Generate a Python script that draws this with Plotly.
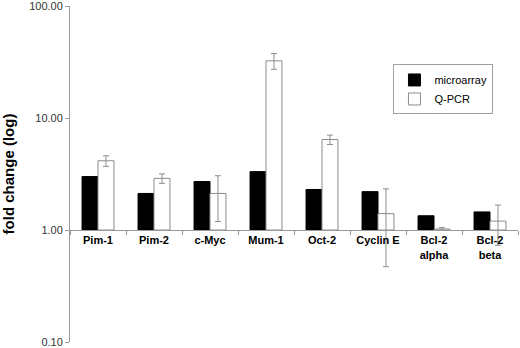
import plotly.graph_objects as go

categories = ["Pim-1", "Pim-2", "c-Myc", "Mum-1", "Oct-2", "Cyclin E", "Bcl-2<br>alpha", "Bcl-2<br>beta"]
microarray = [3.0, 2.12, 2.71, 3.32, 2.30, 2.20, 1.34, 1.45]
qpcr = [4.15, 2.89, 2.12, 32.4, 6.42, 1.40, 1.02, 1.20]
qpcr_err = [0.45, 0.28, 0.93, 5.2, 0.62, 0.93, 0.03, 0.47]
tick_vals = [0.1, 1, 10, 100]
tick_text = ["0.10", "1.00", "10.00", "100.00"]
baseline = 1.0

FONT = "Liberation Sans, Arial, sans-serif"

fig = go.Figure()
fig.add_trace(go.Bar(
    x=categories, y=[v - baseline for v in microarray], base=baseline,
    name="microarray", marker=dict(color="black", line=dict(color="black", width=1)),
))
fig.add_trace(go.Bar(
    x=categories, y=[v - baseline for v in qpcr], base=baseline,
    name="Q-PCR", marker=dict(color="white", line=dict(color="#8c8c8c", width=1)),
    error_y=dict(type="data", array=qpcr_err, color="#8c8c8c", thickness=1, width=3),
))

fig.update_layout(
    width=520, height=348,
    margin=dict(l=70, r=2, t=6, b=6),
    paper_bgcolor="white", plot_bgcolor="white",
    barmode="group", bargap=0.43, bargroupgap=0,
    font=dict(family=FONT, size=12, color="#333"),
    showlegend=True,
    legend=dict(x=0.722, y=0.826, xanchor="left", yanchor="top",
                bordercolor="#a0a0a0", borderwidth=1, bgcolor="white",
                font=dict(size=11, color="black", family=FONT), tracegroupgap=0,
                itemwidth=30),
    xaxis=dict(
        anchor="free", position=1/3,
        showline=True, linecolor="#999", linewidth=1,
        ticks="outside", tickson="boundaries", ticklen=4, tickcolor="#999",
        tickangle=0, automargin=False,
        tickvals=categories, ticktext=["<b>%s</b>" % c for c in categories],
        tickfont=dict(size=11, color="black", family=FONT),
        showgrid=False, zeroline=False,
    ),
    yaxis=dict(
        type="log", range=[-1, 2], domain=[0, 1],
        tickvals=tick_vals, ticktext=tick_text, ticklabeloverflow="allow",
        showline=True, linecolor="#999", linewidth=1,
        ticks="outside", ticklen=4, tickcolor="#999",
        tickfont=dict(size=11, color="#333", family=FONT),
        showgrid=False, zeroline=False, automargin=False,
        title=dict(text="<b>fold change (log)</b>", font=dict(size=15, color="black", family=FONT), standoff=18),
    ),
)

fig.write_html("out.html", config={"displayModeBar": False},
               post_script="document.body.style.margin='0';")
